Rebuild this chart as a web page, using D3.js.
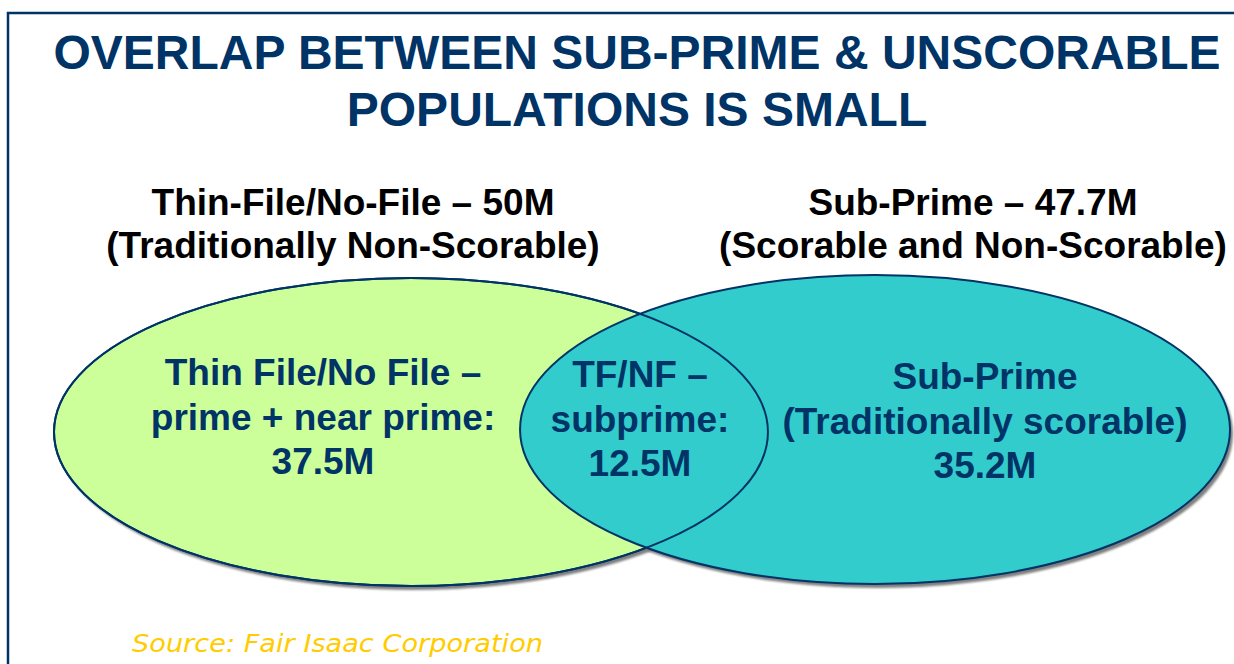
<!DOCTYPE html>
<html>
<head>
<meta charset="utf-8">
<script src="https://cdn.jsdelivr.net/npm/d3@7"></script>
<style>
  html, body { margin: 0; padding: 0; background: #fff; }
  svg { display: block; }
</style>
</head>
<body>
<div id="chart"></div>
<script>
// data
var titleLines = ["OVERLAP BETWEEN SUB-PRIME & UNSCORABLE", "POPULATIONS IS SMALL"];
var setNames = ["Thin-File/No-File", "Sub-Prime"];
var setTotals = [50, 47.7];
var setNotes = ["(Traditionally Non-Scorable)", "(Scorable and Non-Scorable)"];
var regionLabels = [
    ["Thin File/No File \u2013", "prime + near prime:"],
    ["TF/NF \u2013", "subprime:"],
    ["Sub-Prime", "(Traditionally scorable)"]
];
var regionValues = [37.5, 12.5, 35.2];
var sourceText = "Source: Fair Isaac Corporation";

var width = 1234, height = 664;
var navy = "#003366";

var svg = d3.select("#chart").append("svg")
    .attr("width", width)
    .attr("height", height);

// frame
svg.append("path")
    .attr("d", "M8,664 L8,13 L1234,13")
    .attr("fill", "none")
    .attr("stroke", navy)
    .attr("stroke-width", 2.5);

// title
svg.selectAll("text.title")
    .data(titleLines)
    .enter().append("text")
    .attr("class", "title")
    .attr("x", 637)
    .attr("y", (d, i) => 69 + i * 57)
    .attr("text-anchor", "middle")
    .attr("font-family", "Liberation Sans, Arial, sans-serif")
    .attr("font-weight", "bold")
    .attr("font-size", 48)
    .attr("fill", navy)
    .text(d => d);

// layout scales: unit space -> pixels
var x = d3.scaleLinear().domain([0, 1]).range([54, 1230]);
var y = d3.scaleLinear().domain([0, 1]).range([276, 586]);

// ellipse geometry in unit space (x0, x1 extents, y0, y1 extents)
var ellipses = [
    {name: setNames[0], fill: "#CCFF99", x0: 0, x1: 0.6071, y0: 0.0065, y1: 1.0},
    {name: setNames[1], fill: "#33CCCC", x0: 0.3963, x1: 1.0, y0: -0.003, y1: 0.9935}
];
ellipses.forEach(function (e) {
    e.cx = (x(e.x0) + x(e.x1)) / 2;
    e.cy = (y(e.y0) + y(e.y1)) / 2;
    e.rx = (x(e.x1) - x(e.x0)) / 2;
    e.ry = (y(e.y1) - y(e.y0)) / 2;
});

var defs = svg.append("defs");
var filt = defs.append("filter").attr("id", "shadow")
    .attr("x", "-5%").attr("y", "-5%").attr("width", "110%").attr("height", "115%");
filt.append("feGaussianBlur").attr("stdDeviation", 1.2);

// shadows
svg.selectAll("ellipse.shadow")
    .data(ellipses)
    .enter().append("ellipse")
    .attr("class", "shadow")
    .attr("cx", d => d.cx + 3)
    .attr("cy", d => d.cy + 4)
    .attr("rx", d => d.rx)
    .attr("ry", d => d.ry)
    .attr("fill", "#7f7f7f")
    .attr("filter", "url(#shadow)");

// filled sets
svg.selectAll("ellipse.set")
    .data(ellipses)
    .enter().append("ellipse")
    .attr("class", "set")
    .attr("cx", d => d.cx)
    .attr("cy", d => d.cy)
    .attr("rx", d => d.rx)
    .attr("ry", d => d.ry)
    .attr("fill", d => d.fill)
    .attr("stroke", navy)
    .attr("stroke-width", 2);

// outline of the first set on top, so the overlap lens shows
svg.append("ellipse")
    .attr("cx", ellipses[0].cx)
    .attr("cy", ellipses[0].cy)
    .attr("rx", ellipses[0].rx)
    .attr("ry", ellipses[0].ry)
    .attr("fill", "none")
    .attr("stroke", navy)
    .attr("stroke-width", 2);

// set headings
var headX = [353, 973];
var heads = svg.selectAll("g.head")
    .data(setNames)
    .enter().append("g")
    .attr("class", "head");
heads.append("text")
    .attr("x", (d, i) => headX[i])
    .attr("y", 215)
    .attr("text-anchor", "middle")
    .attr("font-family", "Liberation Sans, Arial, sans-serif")
    .attr("font-weight", "bold")
    .attr("font-size", 37)
    .attr("fill", "#000")
    .text((d, i) => d + " \u2013 " + setTotals[i] + "M");
heads.append("text")
    .attr("x", (d, i) => headX[i])
    .attr("y", 258)
    .attr("text-anchor", "middle")
    .attr("font-family", "Liberation Sans, Arial, sans-serif")
    .attr("font-weight", "bold")
    .attr("font-size", 37)
    .attr("fill", "#000")
    .text((d, i) => setNotes[i]);

// region labels
var regX = [323, 640, 985];
var regY = [385, 387, 389];
var regions = svg.selectAll("text.region")
    .data(regionLabels)
    .enter().append("text")
    .attr("class", "region")
    .attr("text-anchor", "middle")
    .attr("font-family", "Liberation Sans, Arial, sans-serif")
    .attr("font-weight", "bold")
    .attr("font-size", 37)
    .attr("fill", navy);
regions.each(function (lines, i) {
    var t = d3.select(this);
    lines.concat([regionValues[i] + "M"]).forEach(function (l, j) {
        t.append("tspan")
            .attr("x", regX[i])
            .attr("y", regY[i] + j * 44.5)
            .text(l);
    });
});

// source
svg.append("text")
    .attr("x", 132)
    .attr("y", 652)
    .attr("font-family", "DejaVu Sans, Verdana, sans-serif")
    .attr("font-style", "italic")
    .attr("font-weight", 200)
    .attr("font-size", 25)
    .attr("fill", "#FFCC00")
    .attr("textLength", 411)
    .attr("lengthAdjust", "spacingAndGlyphs")
    .text(sourceText);
</script>
</body>
</html>
